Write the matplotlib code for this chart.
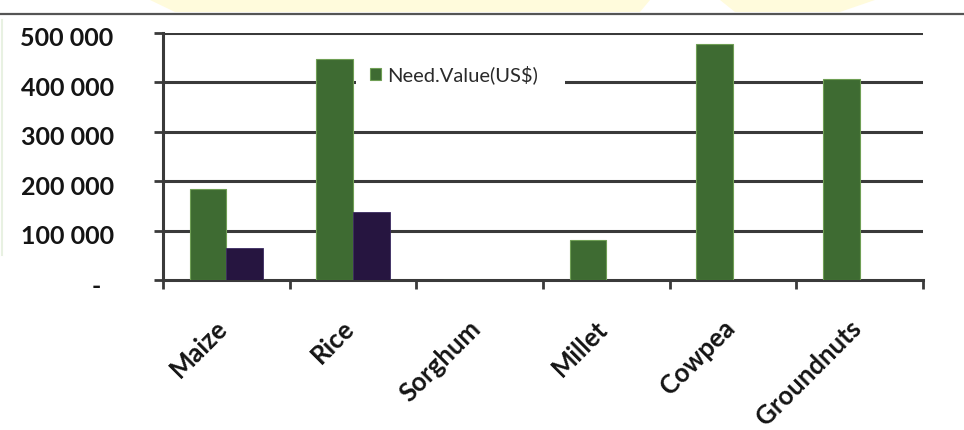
import matplotlib.pyplot as plt
from matplotlib.patches import Polygon, Rectangle
from matplotlib.lines import Line2D
from matplotlib.transforms import ScaledTranslation
import numpy as np

# crop values in US$
crops = ['Maize', 'Rice', 'Sorghum', 'Millet', 'Cowpea', 'Groundnuts']
need_value = [185000, 447000, 0, 81000, 478000, 407000]
available_value = [64000, 138000, 0, 0, 0, 0]
y_ticks = [0, 100000, 200000, 300000, 400000, 500000]
y_labels = ['-  ', '100 000', '200 000', '300 000', '400 000', '500 000']

GREEN = '#3e6b32'
GREEN_EDGE = '#6f9f55'
PURPLE = '#261540'
LINE = '#3a3a3a'
TEXT = '#141414'

plt.rcParams['font.family'] = ['Lato', 'DejaVu Sans']

fig = plt.figure(figsize=(9.64, 4.3), dpi=100)
ax = fig.add_axes([163 / 964, 150 / 430, 760 / 964, 247 / 430])

# faint banner shapes and rule along the top edge
fig.patches.append(Polygon([[150, 430], [650, 430], [640, 418], [175, 418]],
                           closed=True, transform=None, facecolor='#fffbdc',
                           edgecolor='none', zorder=0))
fig.patches.append(Polygon([[720, 430], [875, 430], [840, 418], [735, 418]],
                           closed=True, transform=None, facecolor='#fffbdc',
                           edgecolor='none', zorder=0))
fig.lines.append(Line2D([0, 1], [416 / 430, 416 / 430], transform=fig.transFigure,
                        color='#555555', lw=1.6))
fig.lines.append(Line2D([2 / 964, 2 / 964], [175 / 430, 410 / 430], transform=fig.transFigure,
                        color='#e8f1e2', lw=1.5))

x = np.arange(len(crops)) + 0.5
w = 0.29
ax.bar(x - w / 2, need_value, w, color=GREEN, edgecolor=GREEN_EDGE, linewidth=0.8,
       label='Need.Value(US$)', zorder=3)
ax.bar(x + w / 2, available_value, w, color=PURPLE, edgecolor='#3a2a60', linewidth=0.6,
       zorder=3)

ax.set_xlim(0, len(crops))
ax.set_ylim(0, 500000)

for v in y_ticks[1:]:
    ax.axhline(v, color=LINE, lw=2.2, zorder=1)

for s in ['top', 'right']:
    ax.spines[s].set_visible(False)
ax.spines['left'].set_color(LINE)
ax.spines['left'].set_linewidth(2.2)
ax.spines['bottom'].set_color(LINE)
ax.spines['bottom'].set_linewidth(2.2)

ax.set_yticks(y_ticks)
ax.set_yticklabels(y_labels)
ax.set_xticks(np.arange(len(crops) + 1))
ax.set_xticklabels([])
ax.tick_params(axis='both', direction='out', length=6.5, width=2.0, color=LINE)
ax.tick_params(axis='y', pad=29, labelsize=18, labelcolor=TEXT)
for lab in ax.get_yticklabels():
    lab.set_fontweight('bold')
    lab.set_transform(lab.get_transform() + ScaledTranslation(0, -4 / 100, fig.dpi_scale_trans))

# rotated category names under each group
for xi, name in zip(x, crops):
    ax.annotate(name, xy=(xi, 0), xycoords=('data', 'axes fraction'),
                xytext=(6, -36), textcoords='offset pixels',
                rotation=45, ha='right', va='top', fontsize=18.5,
                fontweight='bold', color=TEXT)

# white legend box interrupts the 400 000 line
ax.add_patch(Rectangle((0.254, 0.76), 0.275, 0.12, transform=ax.transAxes,
                       facecolor='white', edgecolor='none', zorder=2))
ax.legend(loc='center left', bbox_to_anchor=(0.272, 0.83), frameon=False,
          handlelength=0.55, handleheight=0.55, handletextpad=0.3, borderaxespad=0,
          borderpad=0, fontsize=14.5, labelcolor='#2a2a2a')

fig.savefig('out.png', dpi=100)
